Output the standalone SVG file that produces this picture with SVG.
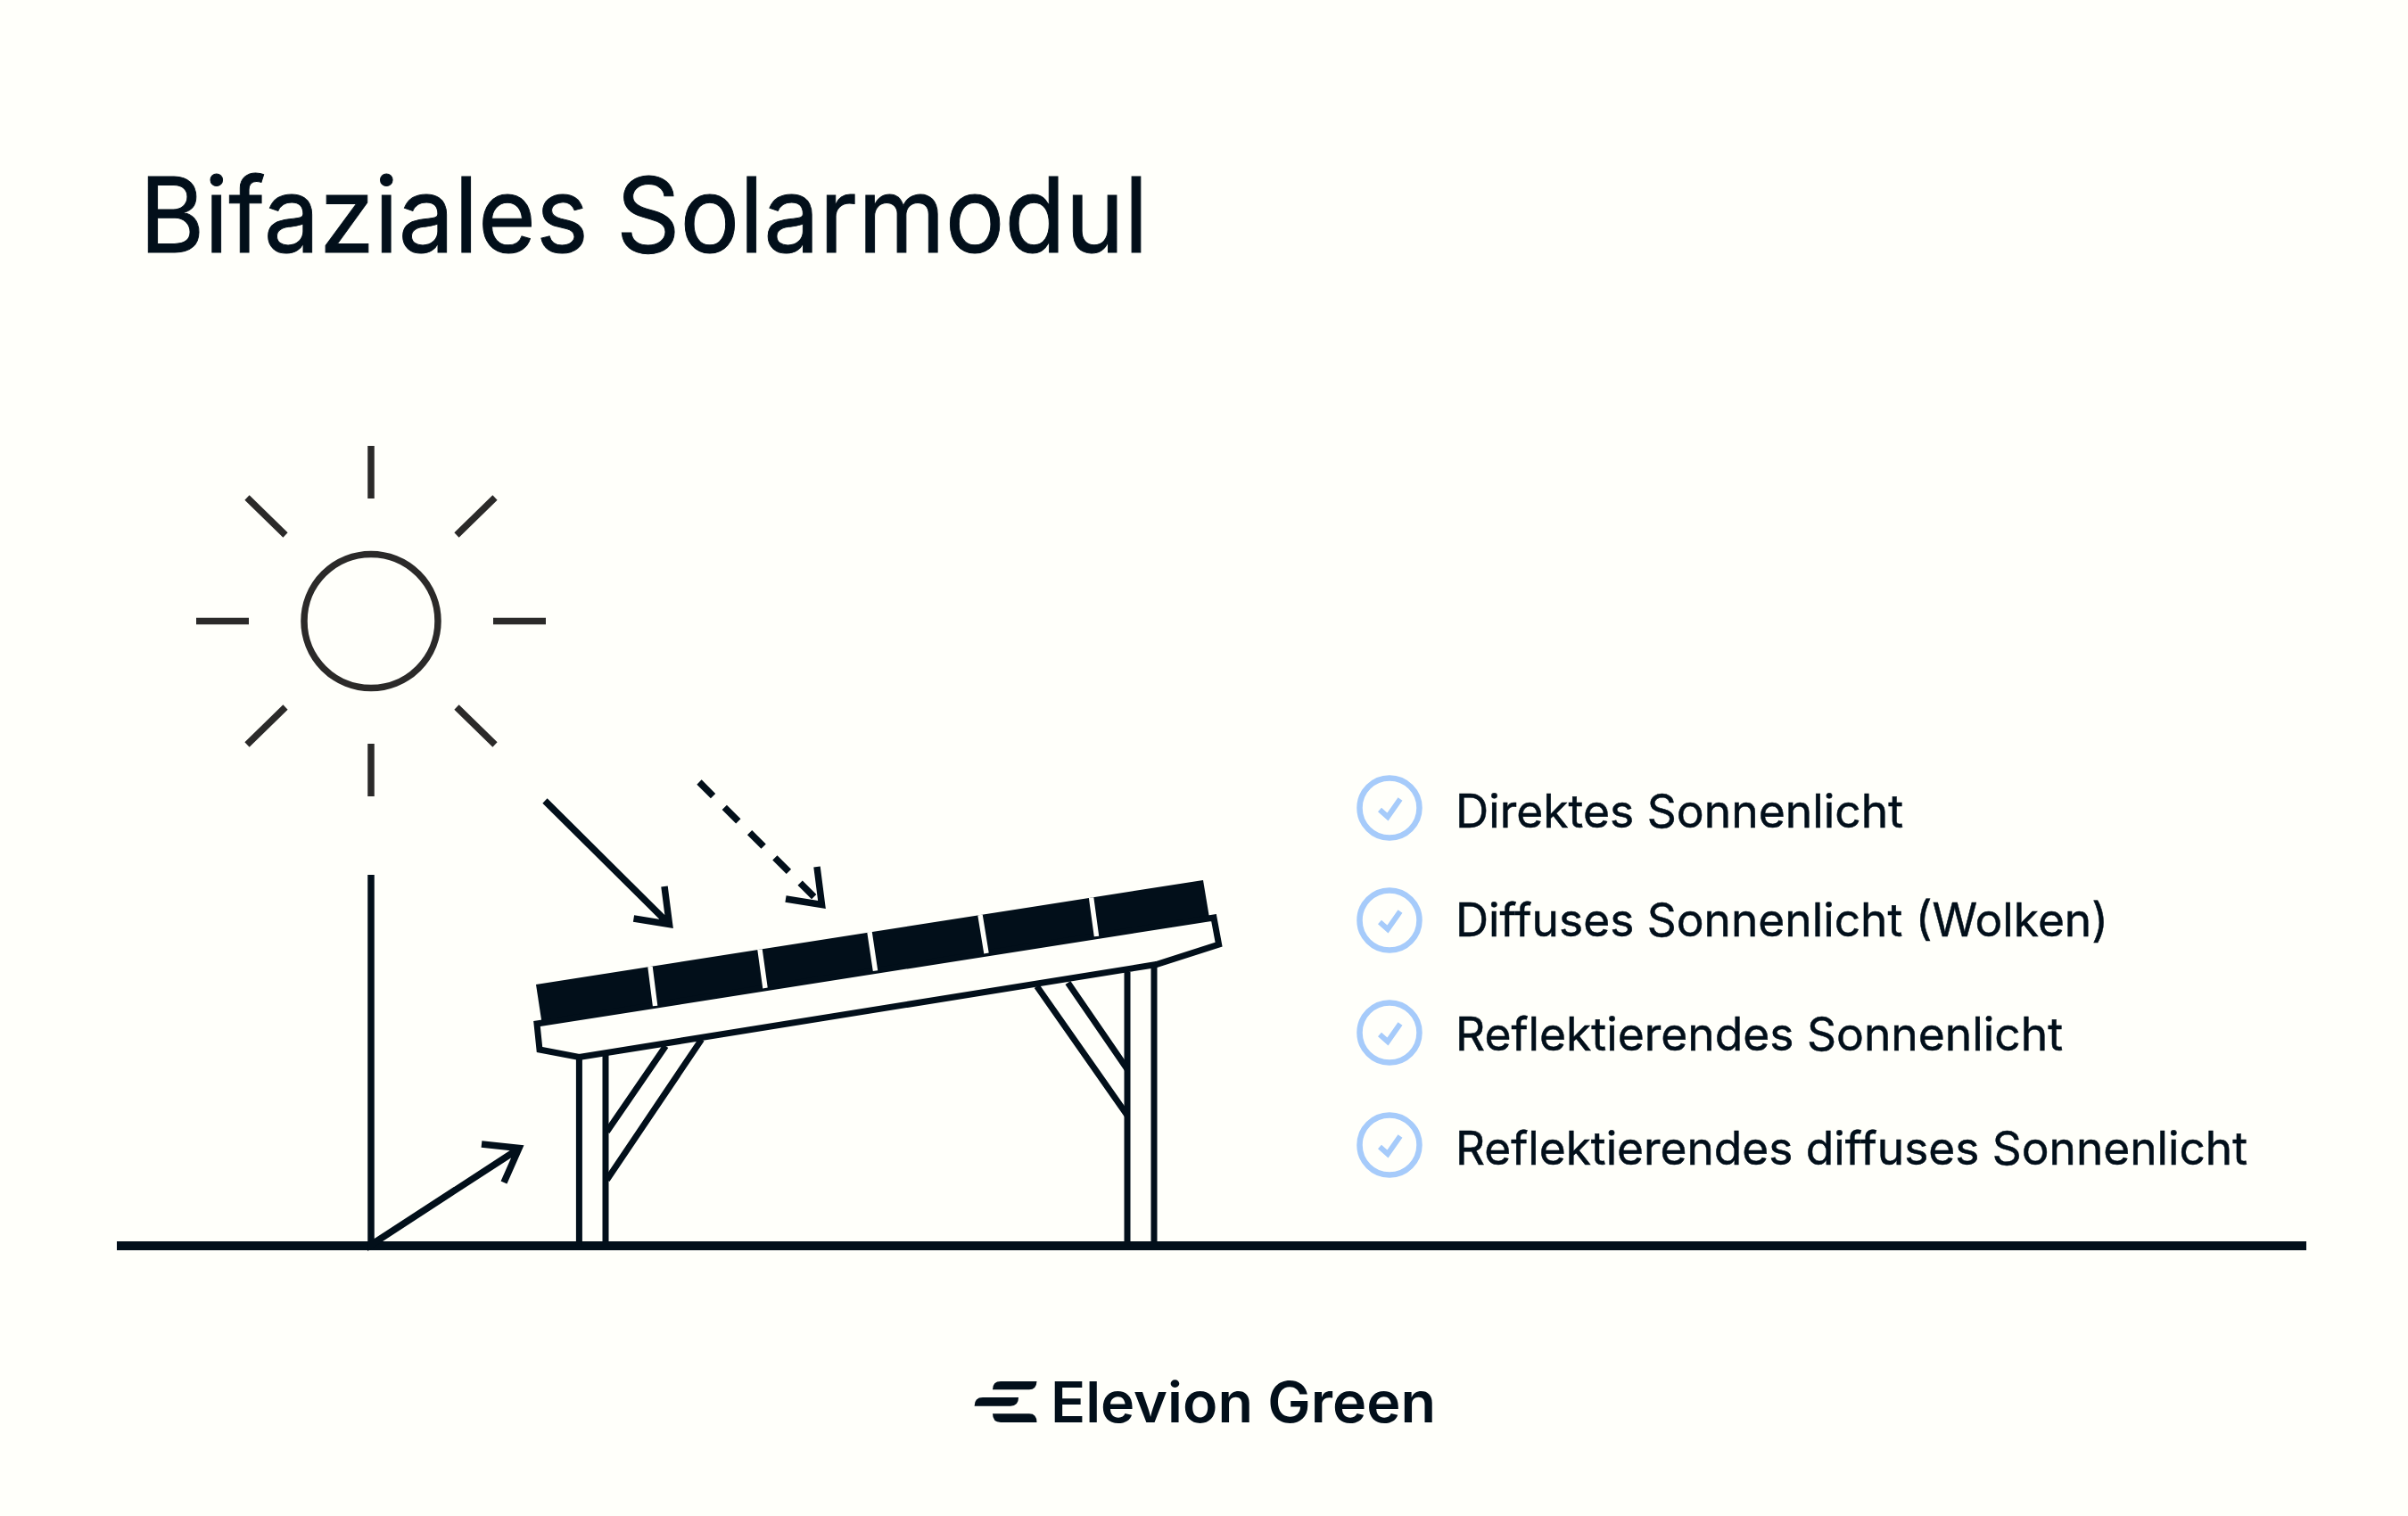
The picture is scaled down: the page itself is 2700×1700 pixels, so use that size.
<svg xmlns="http://www.w3.org/2000/svg" width="2700" height="1700" viewBox="0 0 2700 1700">
<defs>
<style>
.sun{fill:none;stroke:#2b2a29;stroke-width:7.5}
.ln{fill:none;stroke:#020f1a;stroke-width:7.5}
.st{fill:none;stroke:#020f1a;stroke-width:7}
.sep{stroke:#fffffa;stroke-width:5.5;fill:none}
.ck{fill:none;stroke:#a6cbfa;stroke-width:6.5}
.ck2{fill:none;stroke:#a6cbfa;stroke-width:6}
.lab{font-family:Inter,"Liberation Sans",Arial,sans-serif;font-size:52px;fill:#020f1a;stroke:#020f1a;stroke-width:.5}
</style>
</defs>
<rect width="2700" height="1700" fill="#fffffa"/>
<text id="title" x="156.5" y="282.5" font-family="Inter,'Liberation Sans',Arial,sans-serif" font-size="117" fill="#020f1a" stroke="#020f1a" stroke-width="1" textLength="1131" lengthAdjust="spacingAndGlyphs">Bifaziales Solarmodul</text>
<g id="sun">
<circle class="sun" cx="416" cy="696.5" r="75"/>
<path class="sun" d="M416 500V559M416 834V893M220 696.5H279M553 696.5H612M277 558L320 600M555 558L512 600M277 835L320 793M555 835L512 793"/>
</g>
<g id="ground"><path d="M131 1397H2586" fill="none" stroke="#020f1a" stroke-width="10"/></g>
<g id="connectors">
<path class="ln" d="M416 981V1396L582 1288M540 1283L582 1287.5L565 1326"/>
<path class="ln" d="M611 898L750 1036M745 994L750.5 1036.5L710.5 1030"/>
<path class="ln" d="M784 877L921 1014" stroke-dasharray="22 18" stroke-width="8.5"/>
<path class="ln" d="M916 972L921.5 1014.5L881 1008"/>
</g>
<g id="structure">
<path class="st" d="M649.4 1186V1397M679 1182V1397M1264 1090V1397M1294 1084V1397"/>
<path class="st" d="M746.4 1173L680.5 1269M786.6 1165.6L680.5 1323M1197.4 1102L1264 1199M1162.6 1106L1264 1250.7"/>
<polygon id="panel" points="601,1104 1349,987 1356.5,1032 608,1150" fill="#020f1a"/>
<polygon id="beam" points="602,1148 1361,1029 1366.6,1059 1296.5,1081.5 649.4,1185.5 605,1177" fill="#fffffa" stroke="#020f1a" stroke-width="7"/>
<path class="sep" d="M729 1084L734.6 1128M852 1064.6L858 1108M975 1045L981.5 1088.6M1099 1026L1106 1069M1223.6 1006.5L1229.5 1050"/>
</g>
<g id="item1"><circle class="ck" cx="1558" cy="906" r="33.5"/><path class="ck2" d="M1547 908L1556 916L1570 896"/><text class="lab" x="1632" y="927.5" textLength="502" lengthAdjust="spacingAndGlyphs">Direktes Sonnenlicht</text></g>
<g id="item2"><circle class="ck" cx="1558" cy="1032" r="33.5"/><path class="ck2" d="M1547 1034L1556 1042L1570 1022"/><text class="lab" x="1632" y="1049.5" textLength="732" lengthAdjust="spacingAndGlyphs">Diffuses Sonnenlicht (Wolken)</text></g>
<g id="item3"><circle class="ck" cx="1558" cy="1158" r="33.5"/><path class="ck2" d="M1547 1160L1556 1168L1570 1148"/><text class="lab" x="1632" y="1177.5" textLength="681" lengthAdjust="spacingAndGlyphs">Reflektierendes Sonnenlicht</text></g>
<g id="item4"><circle class="ck" cx="1558" cy="1284" r="33.5"/><path class="ck2" d="M1547 1286L1556 1294L1570 1274"/><text class="lab" x="1632" y="1305.5" textLength="888" lengthAdjust="spacingAndGlyphs">Reflektierendes diffuses Sonnenlicht</text></g>
<g id="logo" fill="#020f1a">
<path d="M1122 1549H1162.5Q1162 1558.3 1154 1558.3H1113Q1113 1549 1122 1549Z"/>
<path d="M1102 1567H1142Q1142 1576.7 1133 1576.7H1092.6Q1092.6 1567 1102 1567Z"/>
<path d="M1122 1585.3H1154Q1162.5 1585.3 1162.5 1595H1122Q1113 1595 1113 1585.3Z"/>
<text x="1178" y="1595" font-family="Inter,'Liberation Sans',sans-serif" font-size="63" font-weight="600" textLength="432" lengthAdjust="spacingAndGlyphs">Elevion Green</text>
</g>
</svg>
